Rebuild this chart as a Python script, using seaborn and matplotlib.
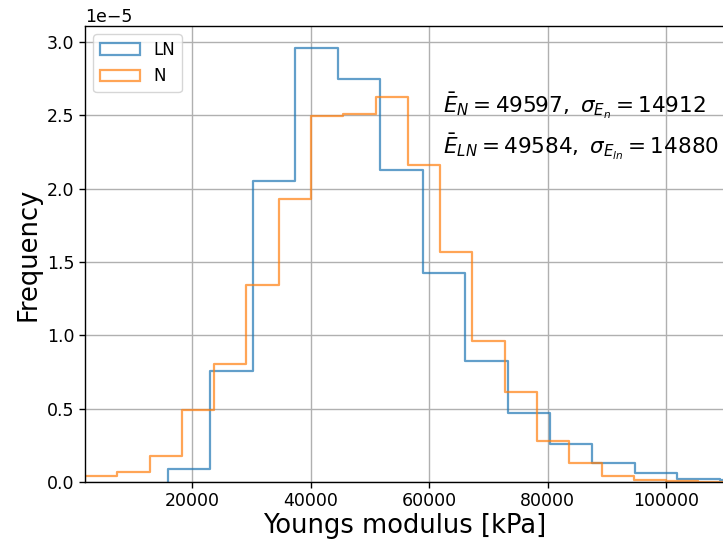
import numpy as np
import pandas as pd
import matplotlib
matplotlib.use("Agg")
import matplotlib.pyplot as plt
from matplotlib.patches import Patch
import seaborn as sns

# ---- data (density, units of 1e-5) ----
ln_edges = [15880, 23040, 30210, 37370, 44540, 51700, 58870, 66030, 73200,
            80360, 87530, 94690, 101860, 109020, 116190]
ln_heights = [0.087, 0.757, 2.054, 2.961, 2.750, 2.127, 1.423, 0.827, 0.468,
              0.259, 0.127, 0.062, 0.023, 0.016]

n_edges = [1890, 7340, 12790, 18240, 23690, 29130, 34580, 40030, 45480, 50930,
           56370, 61820, 67270, 72720, 78170, 83610, 89060, 94510, 99960,
           105400, 110850]
n_heights = [0.041, 0.066, 0.180, 0.493, 0.802, 1.345, 1.927, 2.493, 2.507,
             2.623, 2.163, 1.568, 0.961, 0.614, 0.282, 0.127, 0.041, 0.013,
             0.010, 0.003]

series_labels = ["LN", "N"]
text_lines = [r"$\bar{E}_N = 49597,\ \sigma_{E_n} = 14912$",
              r"$\bar{E}_{LN} = 49584,\ \sigma_{E_{ln}} = 14880$"]
xlabel = "Youngs modulus [kPa]"
ylabel = "Frequency"

scale = 1e-5


def frame(edges, heights):
    e = np.asarray(edges, dtype=float)
    h = np.asarray(heights, dtype=float) * scale
    centers = (e[:-1] + e[1:]) / 2
    return pd.DataFrame({"x": centers, "w": h})


colors = ["#1f77b4", "#ff7f0e"]
alpha = 0.7

fig = plt.figure(figsize=(7.23, 5.44), dpi=100)
ax = fig.add_axes([85 / 723, 62 / 544, 640 / 723, 456 / 544])

for (edges, heights), col in zip([(ln_edges, ln_heights), (n_edges, n_heights)], colors):
    df = frame(edges, heights)
    # a vanishing empty bin in front so the step rises from zero at the first edge
    e = list(edges)
    bins = [e[0] - 1] + e
    sns.histplot(data=df, x="x", weights="w", bins=bins, element="step",
                 fill=False, color=col, alpha=alpha, linewidth=1.6, ax=ax)

ax.set_xlim(1890, 109900)
ax.set_ylim(0, 3.109e-5)
ax.set_xticks([20000, 40000, 60000, 80000, 100000])
ax.set_yticks(np.array([0, 0.5, 1.0, 1.5, 2.0, 2.5, 3.0]) * scale)
ax.grid(True, color="#b0b0b0", linewidth=1.0)
ax.set_axisbelow(True)
ax.tick_params(labelsize=12.5, length=4, width=1, direction="out", colors="black")
ax.yaxis.get_offset_text().set_fontsize(12.5)
for s in ["left", "bottom", "top"]:
    ax.spines[s].set_color("black")
    ax.spines[s].set_linewidth(1.0)
ax.spines["right"].set_visible(False)

ax.set_xlabel(xlabel, fontsize=18.5, labelpad=2)
ax.set_ylabel(ylabel, fontsize=18.5, labelpad=4)

ax.text(62300, 2.52e-5, text_lines[0], fontsize=15.5, va="baseline", ha="left")
ax.text(62300, 2.24e-5, text_lines[1], fontsize=15.5, va="baseline", ha="left")

handles = [Patch(facecolor="none", edgecolor=c, alpha=alpha, linewidth=1.6) for c in colors]
ax.legend(handles, series_labels, loc="upper left", fontsize=12,
          handlelength=2.4, frameon=True)

fig.savefig("out.png", dpi=100)
